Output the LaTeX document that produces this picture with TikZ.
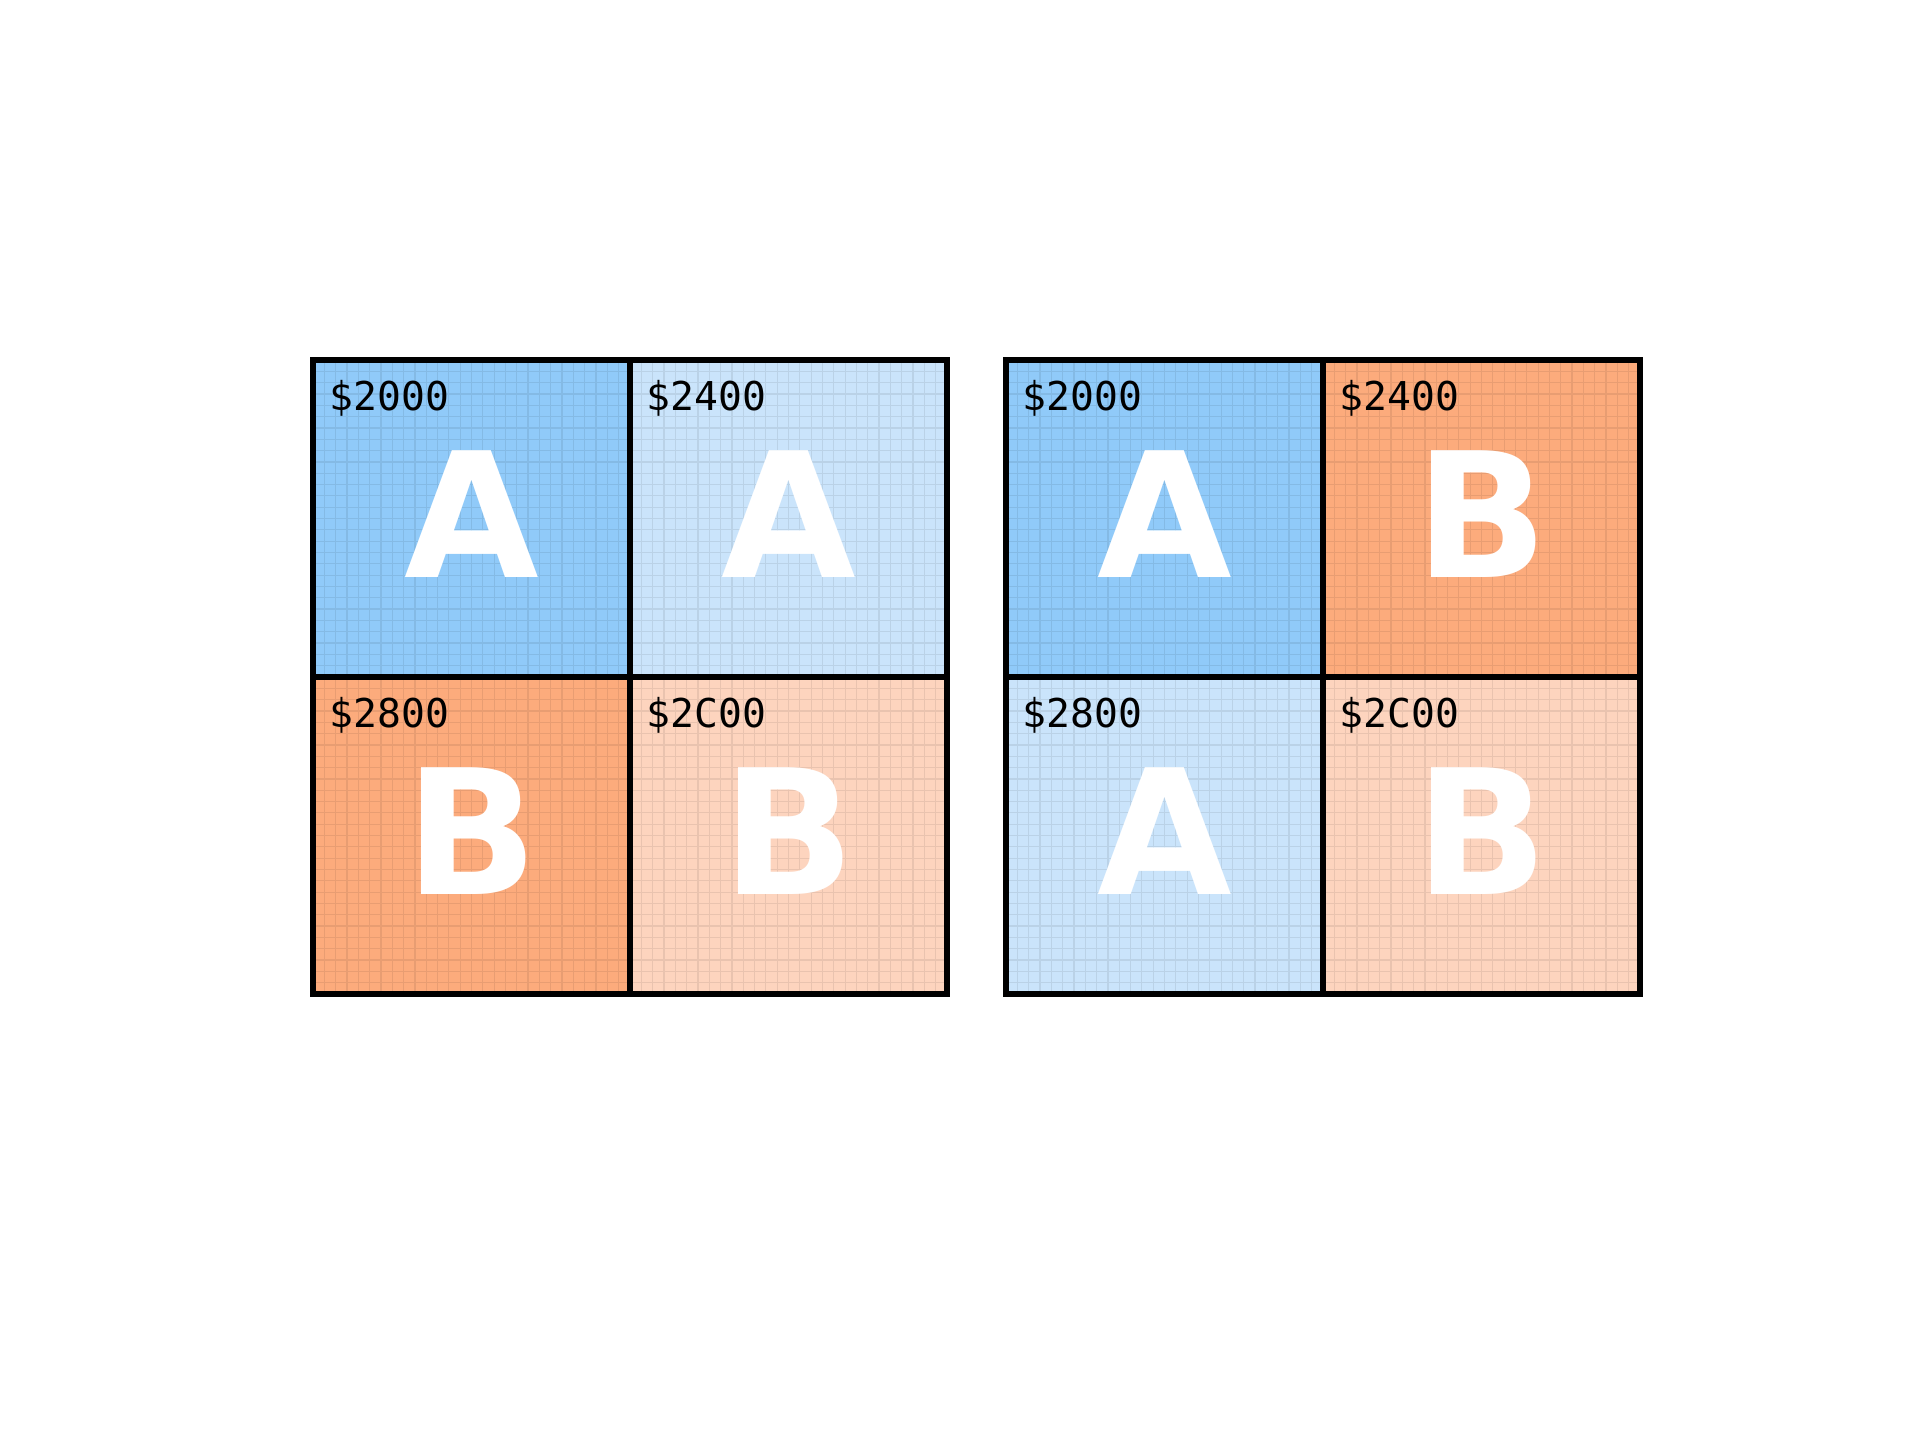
\documentclass[tikz,border=0pt]{standalone}
\usepackage{fontspec}
\setmainfont{DejaVu Sans}
\setmonofont{DejaVu Sans Mono}
\usetikzlibrary{positioning}

\definecolor{bleuFonce}{RGB}{144,202,249}
\definecolor{bleuClair}{RGB}{202,228,251}
\definecolor{orangeFonce}{RGB}{252,171,124}
\definecolor{orangeClair}{RGB}{253,212,190}

\begin{document}
\begin{tikzpicture}[case/.style={draw=black, line width=1.6pt, minimum size=3.17cm, inner sep=0pt, outer sep=0pt}, grille/.style={draw=black, opacity=0.08, line width=0.35pt}, lettre/.style={text=white, anchor=base, font=\fontsize{49.5}{50}\selectfont\bfseries}, adresse/.style={anchor=base west, inner sep=0pt, font=\fontsize{11.3}{13}\selectfont\ttfamily}]
    \useasboundingbox (0,0) rectangle (19.2,-14.4);

    % Cases de gauche
    \node[case, fill=bleuFonce] (g1) at (4.715,-5.185) {};
    \node[case, fill=bleuClair] (g2) [right=0pt of g1] {};
    \node[case, fill=orangeFonce] (g3) [below=0pt of g1] {};
    \node[case, fill=orangeClair] (g4) [right=0pt of g3] {};

    % Cases de droite
    \node[case, fill=bleuFonce] (d1) [right=0.59cm of g2] {};
    \node[case, fill=orangeFonce] (d2) [right=0pt of d1] {};
    \node[case, fill=bleuClair] (d3) [below=0pt of d1] {};
    \node[case, fill=orangeClair] (d4) [right=0pt of d3] {};

    % Grille fine
    \foreach \c in {g3, d3} {
        \begin{scope}[shift={(\c.south west)}]
            \draw[grille, step=3.17cm/28] (0,0) grid (6.34,6.34);
        \end{scope}
    }

    % Lettres
    \node[lettre] (lg1) at ([yshift=-5.85mm]g1.center) {A};
    \node[lettre] (lg2) at ([yshift=-5.85mm]g2.center) {A};
    \node[lettre] (lg3) at ([yshift=-5.85mm]g3.center) {B};
    \node[lettre] (lg4) at ([yshift=-5.85mm]g4.center) {B};
    \node[lettre] (ld1) at ([yshift=-5.85mm]d1.center) {A};
    \node[lettre] (ld2) at ([yshift=-5.85mm]d2.center) {B};
    \node[lettre] (ld3) at ([yshift=-5.85mm]d3.center) {A};
    \node[lettre] (ld4) at ([yshift=-5.85mm]d4.center) {B};

    % Adresses
    \node[adresse] (ag1) at ([xshift=1.6mm, yshift=-5mm]g1.north west) {\$2000};
    \node[adresse] (ag2) at ([xshift=1.6mm, yshift=-5mm]g2.north west) {\$2400};
    \node[adresse] (ag3) at ([xshift=1.6mm, yshift=-5mm]g3.north west) {\$2800};
    \node[adresse] (ag4) at ([xshift=1.6mm, yshift=-5mm]g4.north west) {\$2C00};
    \node[adresse] (ad1) at ([xshift=1.6mm, yshift=-5mm]d1.north west) {\$2000};
    \node[adresse] (ad2) at ([xshift=1.6mm, yshift=-5mm]d2.north west) {\$2400};
    \node[adresse] (ad3) at ([xshift=1.6mm, yshift=-5mm]d3.north west) {\$2800};
    \node[adresse] (ad4) at ([xshift=1.6mm, yshift=-5mm]d4.north west) {\$2C00};

    % Bordures
    \foreach \c in {g1, g2, g3, g4, d1, d2, d3, d4}
        \draw[line width=1.6pt] (\c.north west) rectangle (\c.south east);
\end{tikzpicture}
\end{document}
